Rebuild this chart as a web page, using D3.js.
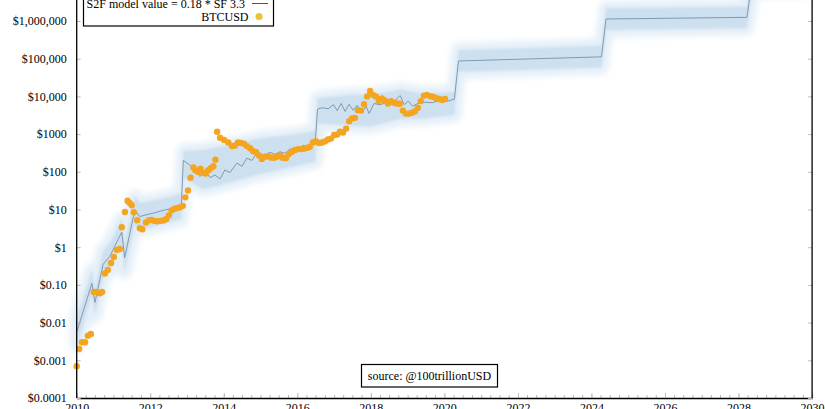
<!DOCTYPE html>
<html><head><meta charset="utf-8">
<script src="https://cdn.jsdelivr.net/npm/d3@7"></script>
<style>
body{margin:0;background:#fff}
svg{display:block}
text{font-family:"Liberation Serif","Times New Roman",serif;fill:#000}
</style>
</head><body>
<svg id="chart" width="825" height="409"></svg>
<script>
// ---------- DATA ----------
const yearTicks = [2010,2012,2014,2016,2018,2020,2022,2024,2026,2028,2030];
const priceTicks = [1e-4,1e-3,1e-2,1e-1,1,10,100,1000,1e4,1e5,1e6];
const priceTickLabels = ["$0.0001","$0.001","$0.01","$0.10","$1","$10","$100","$1000","$10,000","$100,000","$1,000,000"];

const modelDates = ["2010-01-05","2010-06-01","2010-07-01","2010-09-20","2010-11-28","2011-02-15","2011-03-25","2011-04-22","2011-08-01","2011-09-20","2011-11-10","2012-02-15","2012-05-25","2012-09-01","2012-11-05",
"2012-11-25","2013-01-30","2013-03-20","2013-05-10","2013-06-28","2013-08-18","2013-10-05","2013-11-25","2014-01-12","2014-03-03","2014-05-12","2014-07-01","2014-08-18","2014-10-08","2014-11-25","2015-01-25","2015-04-05","2015-05-25","2015-07-12","2015-09-01","2015-10-20","2015-12-20","2016-02-28","2016-04-20","2016-06-08","2016-06-28",
"2016-07-20","2016-09-05","2016-11-03","2016-12-25","2017-02-01","2017-03-12","2017-04-20","2017-05-30","2017-07-08","2017-08-18","2017-10-08","2017-11-15","2017-12-15","2018-02-01","2018-04-01","2018-05-30","2018-07-30","2018-09-20","2018-10-20","2018-11-28","2019-01-08","2019-02-18","2019-04-15","2019-06-25","2019-09-01","2019-11-18","2020-02-06","2020-04-10",
"2020-05-20","2024-04-10","2024-05-25","2028-03-25","2028-05-15","2030-01-01"];
const modelValues = [0.006,0.11,0.034,0.35,0.58,1.6,2.5,0.52,9.7,6.5,7.1,8.2,9.7,11,12,
200,150,112,75,110,70,82,65,112,95,170,140,230,200,310,260,330,290,340,310,400,380,500,470,600,620,
4600,5000,4700,6000,4200,6500,4000,6200,4300,5800,3800,5500,3500,6500,6000,6800,6300,9000,10500,6000,7500,5500,6500,7000,6800,7800,7500,8500,
87000,112000,1130000,1250000,12000000,13000000];

const bandDates = ["2010-01-05","2010-06-01","2010-07-01","2010-09-20","2010-11-28","2011-02-15","2011-03-25","2011-04-22","2011-08-01","2011-09-20","2012-02-15","2012-09-01","2012-11-05",
"2012-11-25","2013-06-01","2014-01-01","2015-01-01","2016-01-01","2016-06-28",
"2016-07-20","2017-06-01","2018-01-01","2018-10-20","2019-06-01","2020-04-10",
"2020-05-20","2024-04-10","2024-05-25","2028-03-25","2028-05-15","2030-01-01"];
const bandLow  = [0.0025,0.05,0.015,0.15,0.25,0.7,1.1,0.22,4,3,3.6,5,5.5,
70,35,47,88,145,185,
1900,1700,1600,2500,2600,3200,
45000,58000,580000,640000,6000000,6500000];
const bandHigh = [0.015,0.25,0.08,0.8,1.3,3.5,5.5,1.2,22,15,18,24,27,
350,380,480,780,1000,1200,
9000,11000,11000,15000,12000,13000,
170000,220000,2200000,2400000,25000000,26000000];

const btcDates = ["2010-01-01","2010-01-25","2010-02-22","2010-03-25","2010-04-22","2010-05-22","2010-06-20","2010-07-20","2010-08-18","2010-09-10","2010-10-08","2010-11-06","2010-12-08",
"2011-01-05","2011-02-05","2011-03-05","2011-03-25","2011-04-25","2011-05-22","2011-06-10","2011-07-01","2011-07-22","2011-08-25","2011-09-20","2011-10-15","2011-11-20","2011-12-20",
"2012-01-15","2012-02-10","2012-03-10","2012-04-10","2012-05-10","2012-06-10","2012-07-05","2012-08-01","2012-08-28","2012-09-25","2012-10-25","2012-11-20","2012-12-15",
"2013-01-10","2013-02-05","2013-03-05","2013-03-25","2013-04-20","2013-05-15","2013-06-10","2013-07-05","2013-07-30","2013-08-25","2013-09-20","2013-10-10","2013-10-27","2013-11-25",
"2014-01-04","2014-02-15","2014-03-25","2014-04-22","2014-05-22","2014-06-20","2014-07-20","2014-08-18","2014-09-20","2014-10-20","2014-11-18","2014-12-18",
"2015-01-15","2015-02-15","2015-03-15","2015-04-15","2015-05-15","2015-06-12","2015-07-12","2015-08-10","2015-09-10","2015-10-08","2015-11-08","2015-12-08",
"2016-01-08","2016-02-06","2016-03-06","2016-04-06","2016-05-04","2016-06-04","2016-07-04","2016-08-04","2016-09-02","2016-10-01","2016-11-01","2016-12-01",
"2017-01-01","2017-02-01","2017-03-01","2017-03-30","2017-04-30","2017-05-30","2017-06-28","2017-07-28","2017-08-25","2017-09-25","2017-10-25","2017-11-25","2017-12-25",
"2018-01-22","2018-02-20","2018-03-20","2018-04-20","2018-05-20","2018-06-20","2018-07-20","2018-08-18","2018-09-15","2018-10-15","2018-11-15","2018-12-15",
"2019-01-12","2019-02-12","2019-03-12","2019-04-12","2019-05-12","2019-06-12","2019-07-12","2019-08-12","2019-09-10","2019-10-10","2019-11-10","2019-12-10","2020-01-08"];
const btcValues = [0.0007,0.002,0.003,0.003,0.0045,0.005,0.065,0.065,0.06,0.065,0.2,0.25,0.38,
0.55,0.85,0.9,3.4,8.6,17,15,13,8.5,5.2,3.2,3.0,4.5,5.2,
5.3,5.0,4.9,5.0,5.1,5.6,7,9.5,10.5,11,11.5,12.5,21,
32,70,130,110,100,120,95,90,110,125,140,210,1150,800,
700,600,480,500,600,580,560,480,420,350,330,270,
220,250,260,240,235,250,270,235,230,290,340,380,
400,400,410,430,460,600,650,580,600,640,720,760,
950,980,1150,1100,1400,2200,2600,2700,4300,4200,6200,10000,14000,
11000,10000,7500,8800,7800,6500,7500,6800,6500,6400,4200,3500,
3500,3700,4000,5000,7500,10500,11000,10200,9800,9000,8500,8000,8500];

// ---------- CHART ----------
const parse = d3.timeParse("%Y-%m-%d");
const svg = d3.select("#chart");
const L = 76.7, R = 812.1, B = 398;

const x = d3.scaleTime().domain([new Date(2010,0,1), new Date(2030,0,1)]).range([L, R]);
const y = d3.scaleLog().domain([1e-4, 1e6]).range([B, 21]);

const model = modelDates.map((d,i)=>({date:parse(d), v:modelValues[i]}));
const band = bandDates.map((d,i)=>({date:parse(d), lo:bandLow[i], hi:bandHigh[i]}));
const btc = btcDates.map((d,i)=>({date:parse(d), v:btcValues[i]}));

const defs = svg.append("defs");
defs.append("filter").attr("id","blurO").attr("x","-10%").attr("y","-50%").attr("width","120%").attr("height","200%")
  .append("feGaussianBlur").attr("stdDeviation",3);
defs.append("filter").attr("id","blurI")
  .append("feGaussianBlur").attr("stdDeviation",1);

const area = d3.area().x(d=>x(d.date)).y0(d=>y(d.lo)).y1(d=>y(d.hi));
svg.append("path").datum(band).attr("d",area)
  .attr("fill","#e4eff8").attr("stroke","#e4eff8").attr("stroke-width",14)
  .attr("stroke-linejoin","round").attr("filter","url(#blurO)");
svg.append("path").datum(band).attr("d",area)
  .attr("fill","#cde0f0").attr("filter","url(#blurI)");

const line = d3.line().x(d=>x(d.date)).y(d=>y(d.v));
svg.append("path").datum(model).attr("d",line)
  .attr("fill","none").attr("stroke","#8399ad").attr("stroke-width",1);

svg.append("g").selectAll("circle").data(btc).join("circle")
  .attr("cx",d=>x(d.date)).attr("cy",d=>y(d.v)).attr("r",3.2)
  .attr("fill","#f4a520");

// axes
const quarters = d3.timeMonth.every(3).range(new Date(2010,0,1), new Date(2030,0,2));
const gxMinor = svg.append("g").attr("transform",`translate(0,${B})`)
  .call(d3.axisBottom(x).tickValues(quarters).tickSize(-3).tickFormat("").tickSizeOuter(0));
gxMinor.selectAll(".tick line").attr("stroke","#bbb");
gxMinor.select(".domain").remove();

const gx = svg.append("g").attr("transform",`translate(0,${B})`)
  .call(d3.axisBottom(x).tickValues(yearTicks.map(yy=>new Date(yy,0,1)))
    .tickFormat(d=>d.getFullYear()).tickSize(-5).tickPadding(5).tickSizeOuter(0));
gx.selectAll(".tick line").attr("stroke","#bbb");
gx.select(".domain").attr("stroke","#000").attr("stroke-width",1.3);
gx.selectAll("text").attr("font-size",12).attr("font-family","Liberation Serif");

const gy = svg.append("g").attr("transform",`translate(${L},0)`)
  .call(d3.axisLeft(y).tickValues(priceTicks).tickFormat((d,i)=>priceTickLabels[i])
    .tickSize(-4).tickPadding(10).tickSizeOuter(0));
gy.selectAll(".tick line").attr("stroke","#bbb");
gy.select(".domain").remove();
gy.selectAll("text").attr("font-size",12).attr("font-family","Liberation Serif");

const gyR = svg.append("g").attr("transform",`translate(${R},0)`)
  .call(d3.axisRight(y).tickValues(priceTicks).tickFormat("").tickSize(-4).tickSizeOuter(0));
gyR.selectAll(".tick line").attr("stroke","#bbb");
gyR.select(".domain").remove();

// spines
svg.append("line").attr("x1",L).attr("x2",L).attr("y1",0).attr("y2",B).attr("stroke","#000").attr("stroke-width",1.3);
svg.append("line").attr("x1",R).attr("x2",R).attr("y1",0).attr("y2",B).attr("stroke","#000").attr("stroke-width",1.3);

// legend
const lg = svg.append("g");
lg.append("rect").attr("x",83.5).attr("y",-10).attr("width",190).attr("height",36)
  .attr("fill","#fff").attr("stroke","#000").attr("stroke-width",1.2);
lg.append("text").attr("x",245).attr("y",7.5).attr("text-anchor","end").attr("font-size",12)
  .text("S2F model value = 0.18 * SF 3.3");
lg.append("line").attr("x1",252).attr("x2",268).attr("y1",3.5).attr("y2",3.5).attr("stroke","#555").attr("stroke-width",1);
lg.append("text").attr("x",248.5).attr("y",20.5).attr("text-anchor","end").attr("font-size",12)
  .text("BTCUSD");
lg.append("circle").attr("cx",259).attr("cy",16.5).attr("r",3.6).attr("fill","#eec232");

// source box
const sg = svg.append("g");
sg.append("rect").attr("x",361.5).attr("y",364.5).attr("width",136).attr("height",22.5)
  .attr("fill","#fff").attr("stroke","#000").attr("stroke-width",1.2);
sg.append("text").attr("x",429.5).attr("y",380).attr("text-anchor","middle").attr("font-size",12)
  .text("source: @100trillionUSD");
</script>
</body></html>
